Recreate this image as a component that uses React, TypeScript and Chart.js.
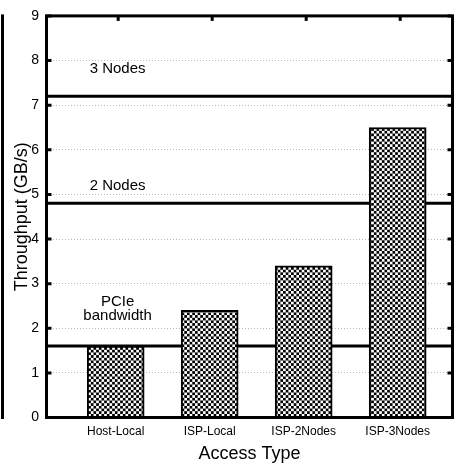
import { useEffect, useRef } from "react";
import { Chart, registerables } from "chart.js";

Chart.register(...registerables);

// ---- data ----
const categories = ["Host-Local", "ISP-Local", "ISP-2Nodes", "ISP-3Nodes"];
const throughput = [1.6, 2.4, 3.4, 6.5];
const refValues = [1.6, 4.8, 7.2];
const refLabels = [["PCIe", "bandwidth"], ["2 Nodes"], ["3 Nodes"]];
const refLabelY = [2.44, 5.2, 7.81];
const yTickValues = [0, 1, 2, 3, 4, 5, 6, 7, 8, 9];

// ---- layout constants ----
const X_MIN = -0.736;
const X_MAX = 3.583;
const FONT = "'Liberation Sans', Arial, Helvetica, sans-serif";

function makePattern(): CanvasPattern | string {
  const c = document.createElement("canvas");
  c.width = 6;
  c.height = 6;
  const g = c.getContext("2d");
  if (!g) return "#777";
  g.fillStyle = "#000";
  g.fillRect(0, 0, 6, 6);
  g.fillStyle = "#fff";
  g.fillRect(0, 0, 3, 3);
  g.fillRect(3, 3, 3, 3);
  const p = g.createPattern(c, "repeat");
  if (!p) return "#777";
  try {
    p.setTransform(new DOMMatrix().scale(0.89));
  } catch (e) {
    /* ignore */
  }
  return p;
}

const framePlugin = {
  id: "frame",
  afterDatasetsDraw(chart: any) {
    const { ctx, chartArea } = chart;
    const { left, right, top, bottom } = chartArea;
    const xs = chart.scales.x;
    const ys = chart.scales.y;
    ctx.save();
    // crop artifact line at far left
    ctx.fillStyle = "#000";
    ctx.fillRect(1, top - 1.5, 3, bottom - top + 3);
    // frame
    ctx.strokeStyle = "#000";
    ctx.lineWidth = 3;
    ctx.strokeRect(left, top, right - left, bottom - top);
    // inner ticks on y
    yTickValues.forEach((v) => {
      const py = ys.getPixelForValue(v);
      ctx.beginPath();
      ctx.moveTo(left, py);
      ctx.lineTo(left + 5, py);
      ctx.moveTo(right, py);
      ctx.lineTo(right - 5, py);
      ctx.stroke();
    });
    // top ticks at categories
    categories.forEach((_, i) => {
      const px = xs.getPixelForValue(i) + 2.5;
      ctx.beginPath();
      ctx.moveTo(px, top);
      ctx.lineTo(px, top + 5);
      ctx.stroke();
    });
    // reference labels
    ctx.fillStyle = "#000";
    ctx.font = `15px ${FONT}`;
    ctx.textAlign = "center";
    ctx.textBaseline = "middle";
    refLabels.forEach((lines, i) => {
      const cx = xs.getPixelForValue(0.02);
      const cy = ys.getPixelForValue(refLabelY[i]);
      const lh = 14;
      const start = cy - ((lines.length - 1) * lh) / 2;
      lines.forEach((t, j) => ctx.fillText(t, cx, start + j * lh));
    });
    ctx.restore();
  },
};

export default function App() {
  const ref = useRef<HTMLCanvasElement | null>(null);

  useEffect(() => {
    if (!ref.current) return;
    const pattern = makePattern();
    const lineDatasets = refValues.map((v) => ({
      type: "line" as const,
      data: [
        { x: X_MIN, y: v },
        { x: X_MAX, y: v },
      ],
      borderColor: "#000",
      borderWidth: 3,
      pointRadius: 0,
      order: 2,
    }));
    const chart = new Chart(ref.current, {
      type: "bar",
      data: {
        datasets: [
          {
            type: "bar" as const,
            data: categories.map((_, i) => ({ x: i, y: throughput[i] })),
            backgroundColor: pattern as any,
            borderColor: "#000",
            borderWidth: 2,
            barThickness: 57,
            order: 1,
          },
          ...lineDatasets,
        ] as any,
      },
      options: {
        responsive: false,
        animation: false,
        layout: { padding: { left: 0, top: 13.5, right: 9.5, bottom: 0 } },
        plugins: { legend: { display: false }, tooltip: { enabled: false } },
        scales: {
          x: {
            type: "linear",
            offset: false,
            min: X_MIN,
            max: X_MAX,
            grid: { display: false, drawTicks: false, offset: false },
            border: { display: false },
            afterBuildTicks: (s: any) => {
              s.ticks = categories.map((_, i) => ({ value: i }));
            },
            afterFit: (s: any) => {
              s.height = 47.5;
            },
            ticks: {
              autoSkip: false,
              maxRotation: 0,
              padding: 7,
              color: "#000",
              font: { family: FONT, size: 12 },
              callback: (v: any) => categories[v] ?? "",
            },
            title: {
              display: true,
              text: "Access Type",
              color: "#000",
              font: { family: FONT, size: 18 },
              padding: { top: 0, bottom: 0.5 },
            },
          },
          y: {
            type: "linear",
            min: 0,
            max: 9,
            afterBuildTicks: (s: any) => {
              s.ticks = yTickValues.map((v) => ({ value: v }));
            },
            afterFit: (s: any) => {
              s.width = 46.5;
            },
            grid: { color: "#b8b8b8", lineWidth: 1, drawTicks: false },
            border: { display: false, dash: [1, 2] },
            ticks: {
              padding: 7.5,
              color: "#000",
              font: { family: FONT, size: 14 },
            },
            title: {
              display: true,
              text: "Throughput (GB/s)",
              color: "#000",
              font: { family: FONT, size: 18 },
              padding: { top: 11.2, bottom: 0 },
            },
          },
        },
      },
      plugins: [framePlugin],
    });
    return () => chart.destroy();
  }, []);

  return (
    <div style={{ position: "absolute", left: 0, top: 0, width: 462, height: 465, background: "#fff" }}>
      <canvas ref={ref} width={462} height={465} />
    </div>
  );
}
